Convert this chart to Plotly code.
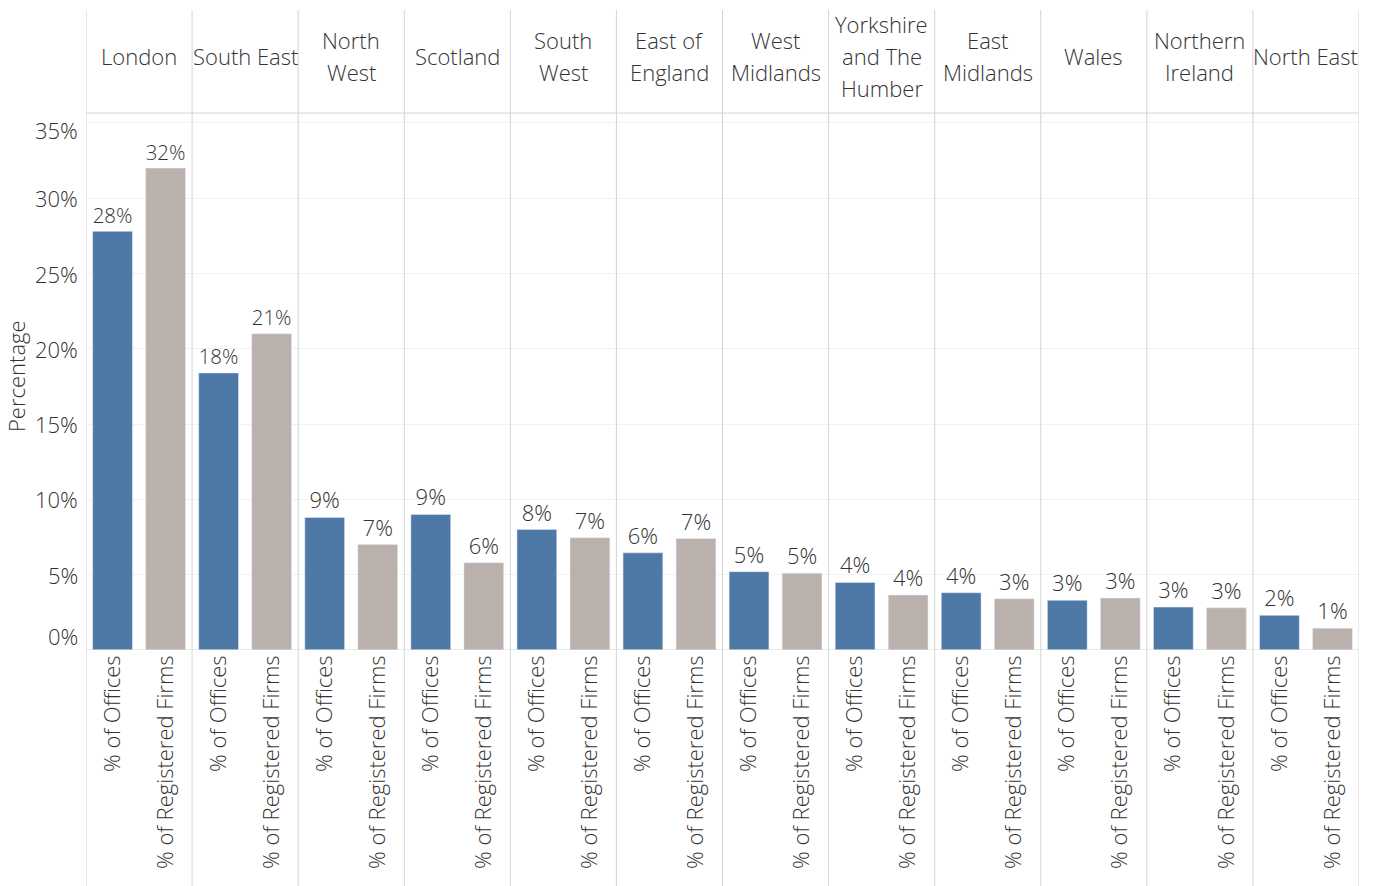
import plotly.graph_objects as go

# Regions (header row) and the two measures shown for each
regions = ["London", "South East", "North\nWest", "Scotland", "South\nWest",
           "East of\nEngland", "West\nMidlands", "Yorkshire\nand The\nHumber",
           "East\nMidlands", "Wales", "Northern\nIreland", "North East"]
measures = ["% of Offices", "% of Registered Firms"]

offices_pct = [27.8, 18.4, 8.8, 9.0, 8.0, 6.45, 5.2, 4.49, 3.8, 3.3, 2.85, 2.3]
firms_pct = [32.0, 21.0, 7.0, 5.8, 7.45, 7.4, 5.1, 3.65, 3.4, 3.45, 2.8, 1.45]

y_ticks = [0, 5, 10, 15, 20, 25, 30, 35]

BLUE = "#4e79a7"
GREY = "#bab0ac"
TEXT = "#333333"
FONT = "Open Sans"
FS = 22
WT = 300


def tfont():
    return dict(family=FONT, size=FS, color=TEXT, weight=WT)


n = len(regions)
x_off = [2 * i for i in range(n)]
x_firm = [2 * i + 1 for i in range(n)]

fig = go.Figure()
fig.add_trace(go.Bar(
    x=x_off, y=offices_pct, marker_color=BLUE, width=0.75,
    texttemplate="%{y:.0f}%", textposition="outside",
    textfont=tfont(), cliponaxis=False,
    name=measures[0], showlegend=False, hoverinfo="skip"))
fig.add_trace(go.Bar(
    x=x_firm, y=firms_pct, marker_color=GREY, width=0.75,
    texttemplate="%{y:.0f}%", textposition="outside",
    textfont=tfont(), cliponaxis=False,
    name=measures[1], showlegend=False, hoverinfo="skip"))

W, H = 1373, 886
ML, MR, MT, MB = 86, 14, 113, 236
plot_h = H - MT - MB
y_top = 35.66


def py(px):
    """Pixel row -> paper y."""
    return (H - MB - px) / plot_h


fig.update_layout(
    width=W, height=H,
    margin=dict(l=ML, r=MR, t=MT, b=MB),
    paper_bgcolor="white", plot_bgcolor="white",
    barmode="overlay",
    font=tfont(),
    xaxis=dict(
        range=[-0.5, 2 * n - 0.5],
        tickmode="array",
        tickvals=x_off + x_firm,
        ticktext=[measures[0]] * n + [measures[1]] * n,
        tickangle=-90,
        tickfont=tfont(),
        showgrid=False, zeroline=False, showline=False, ticks="",
        fixedrange=True,
    ),
    yaxis=dict(
        range=[0, y_top],
        tickmode="array", tickvals=y_ticks, showticklabels=False,
        showgrid=True, gridcolor="#f2f2f2", gridwidth=1,
        zeroline=False, showline=False, ticks="",
        fixedrange=True,
    ),
)

shapes = []
# zero baseline
shapes.append(dict(type="line", xref="paper", yref="y", x0=0, x1=1, y0=0, y1=0,
                   line=dict(color="#d4d4d4", width=1)))
# header bottom rule
shapes.append(dict(type="line", xref="paper", yref="paper", x0=0, x1=1,
                   y0=py(113), y1=py(113), line=dict(color="#d4d4d4", width=1)))
# panel dividers (full height, header to labels)
for k in range(n + 1):
    xv = 2 * k - 0.5
    shapes.append(dict(type="line", xref="x", yref="paper", x0=xv, x1=xv,
                       y0=py(886), y1=py(10),
                       line=dict(color="#d4d4d4", width=1)))
fig.update_layout(shapes=shapes)

ann = []
# header region labels, one annotation per line
for i, name in enumerate(regions):
    lines = name.split("\n")
    m = len(lines)
    for j, ln in enumerate(lines):
        cy = 56 + (j - (m - 1) / 2) * 32
        ann.append(dict(x=2 * i + 0.5, y=py(cy), xref="x", yref="paper",
                        text=ln, showarrow=False, xanchor="center",
                        yanchor="middle", font=tfont()))

# y tick labels (end labels nudged inward to stay within the pane)
for v in y_ticks:
    shift = 0
    if v == 0:
        shift = 14
    elif v == 35:
        shift = -7
    ann.append(dict(x=0, y=v, xref="paper", yref="y", text=f"{v}%",
                    showarrow=False, xanchor="right", yanchor="middle",
                    xshift=-6, yshift=shift, font=tfont()))

# y axis title
ann.append(dict(x=(16 - ML) / (W - ML - MR), y=py(376),
                xref="paper", yref="paper", text="Percentage",
                showarrow=False, textangle=-90, xanchor="center",
                yanchor="middle", font=tfont()))
fig.update_layout(annotations=ann)

fig.write_html("out.html")
